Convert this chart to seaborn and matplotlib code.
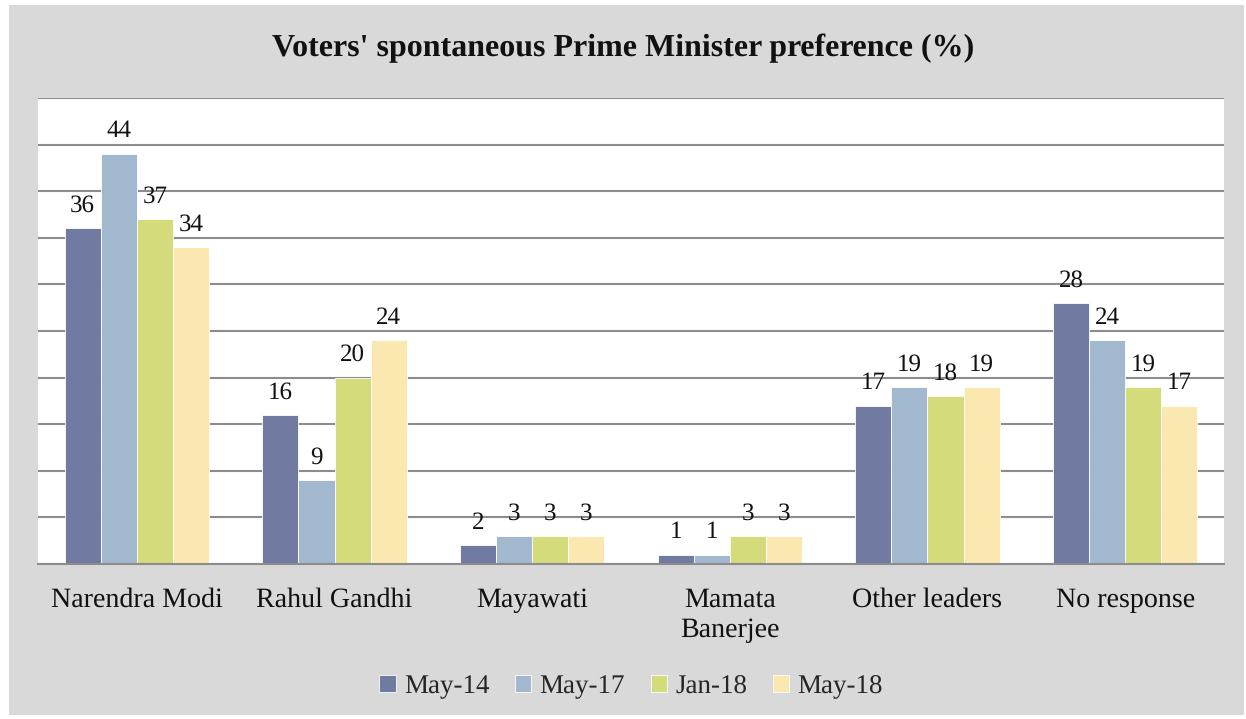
import numpy as np
import pandas as pd
import matplotlib
matplotlib.use("Agg")
import matplotlib.pyplot as plt
import seaborn as sns

# Survey data: share of voters naming each leader as preferred PM (%)
categories = ["Narendra Modi", "Rahul Gandhi", "Mayawati", "Mamata\nBanerjee",
              "Other leaders", "No response"]
waves = ["May-14", "May-17", "Jan-18", "May-18"]
may14 = [36, 16, 2, 1, 17, 28]
may17 = [44, 9, 3, 1, 19, 24]
jan18 = [37, 20, 3, 3, 18, 19]
may18 = [34, 24, 3, 3, 19, 17]
colors = ["#717aa1", "#a2b8cf", "#d4db7a", "#fae8b0"]

df = pd.DataFrame({
    "Leader": categories * 4,
    "Wave": np.repeat(waves, len(categories)),
    "Value": may14 + may17 + jan18 + may18,
})

sns.set_theme(style="white")
plt.rcParams["font.family"] = ["Liberation Serif", "DejaVu Serif"]
plt.rcParams["text.hinting"] = "no_hinting"
plt.rcParams["text.hinting_factor"] = 1

fig = plt.figure(figsize=(12.46, 7.19), dpi=100)
fig.patch.set_facecolor("white")
# grey chart background panel
bg = plt.Rectangle((9 / 1246, 4 / 719), 1235 / 1246, 710 / 719,
                   transform=fig.transFigure, facecolor="#d9d9d9",
                   edgecolor="none", zorder=-10)
fig.patches.append(bg)

ax = fig.add_axes([38 / 1246, 1 - 564 / 719, (1224 - 38) / 1246, (564 - 98) / 719])
ax.set_facecolor("white")

sns.barplot(data=df, x="Leader", y="Value", hue="Wave", palette=colors,
            width=0.73, saturation=1, ax=ax, edgecolor="white", linewidth=0.6,
            legend=True)

ax.set_ylim(0, 50)
ax.set_yticks(np.arange(0, 51, 5))
ax.set_yticklabels([])
ax.tick_params(axis="y", length=0)
ax.yaxis.grid(True, color="#8c8c8c", linewidth=1.5)
ax.set_axisbelow(True)
ax.set_xlim(-0.5, len(categories) - 0.5)

for s in ["left", "right", "top"]:
    ax.spines[s].set_visible(False)
ax.spines["bottom"].set_color("#8c8c8c")
ax.spines["bottom"].set_linewidth(1.5)

# category tick marks sit on the group boundaries
ax.set_xticks(np.arange(len(categories)))
ax.set_xticklabels(categories, fontsize=20.5, color="#111111", linespacing=1.25)
ax.tick_params(axis="x", length=0, pad=17)
ax.set_xticks(np.arange(-0.5, len(categories)), minor=True)
ax.tick_params(axis="x", which="minor", length=7, width=1.5, color="#8c8c8c")
ax.set_xlabel("")
ax.set_ylabel("")

for cont in ax.containers:
    ax.bar_label(cont, fmt="%d", padding=8, fontsize=18, color="#111111")

leg = ax.legend(loc="upper center", bbox_to_anchor=(0.5, -0.185), ncol=4,
                frameon=False, fontsize=19.5, handlelength=0.6, handleheight=0.6,
                handletextpad=0.3, columnspacing=0.95)

fig.text(0.5, 1 - 48 / 719, "Voters' spontaneous Prime Minister preference (%)",
         ha="center", va="center", fontsize=23, fontweight="bold", color="#111111")

fig.savefig("out.png", dpi=100, facecolor=fig.get_facecolor())
